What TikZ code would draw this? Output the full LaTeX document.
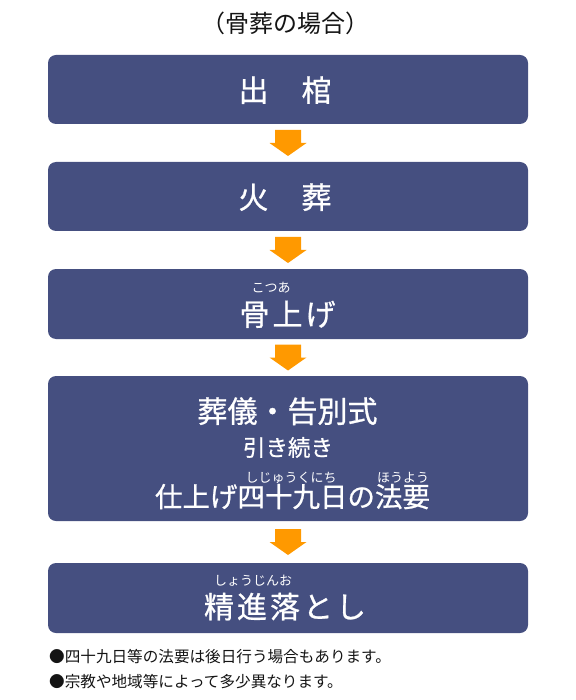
\documentclass[tikz,border=0pt]{standalone}
\usepackage{fontspec}
\setmainfont{Noto Sans CJK JP}
\newfontfamily\jpbox{Noto Sans CJK JP}[FakeBold=0.8]
\usetikzlibrary{calc}
\definecolor{boxblue}{RGB}{69,79,128}
\definecolor{arroworange}{RGB}{255,153,0}
\definecolor{titlegray}{RGB}{20,20,20}
\begin{document}
\begin{tikzpicture}[x=1pt,y=-1pt,
  stepbox/.style={fill=boxblue, draw=none, rounded corners=8pt, minimum width=480pt, inner sep=0pt},
  wt/.style={text=white, inner sep=0pt, anchor=base},
  big/.style={wt, font=\jpbox\fontsize{30}{30}\selectfont},
  mid/.style={wt, font=\jpbox\fontsize{27.5}{27.5}\selectfont},
  small/.style={wt, font=\jpbox\fontsize{22.5}{22.5}\selectfont},
  ruby/.style={wt, font=\fontsize{13}{13}\selectfont},
  note/.style={text=titlegray, inner sep=0pt, anchor=base west, font=\fontsize{15.6}{15.6}\selectfont},
  title/.style={text=titlegray, inner sep=0pt, anchor=base, font=\fontsize{24}{24}\selectfont}
]
\useasboundingbox (0,0) rectangle (575,700);

% title
\node[title] (title) at (285,33) {（骨葬の場合）};

% boxes
\node[stepbox, minimum height=69pt] (b1) at (288,89.5) {};
\node[stepbox, minimum height=69pt] (b2) at (288,196.5) {};
\node[stepbox, minimum height=70pt] (b3) at (288,304) {};
\node[stepbox, minimum height=145pt] (b4) at (288,448.5) {};
\node[stepbox, minimum height=70pt] (b5) at (288,598) {};

% arrows
\foreach \a/\b in {b1/b2,b2/b3,b3/b4,b4/b5}{
  \coordinate (m\a) at ($(\a.south)!0.5!(\b.north)$);
  \fill[arroworange] ([shift={(-13,-13)}]m\a) -- ([shift={(13,-13)}]m\a)
     -- ([shift={(13,0)}]m\a) -- ([shift={(18.5,0)}]m\a) -- ([shift={(0,13)}]m\a)
     -- ([shift={(-18.5,0)}]m\a) -- ([shift={(-13,0)}]m\a) -- cycle;
}

% box texts
\node[big] (t1) at (285,101.5) {出\hspace{33pt}棺};
\node[big] (t2) at (285,208.5) {火\hspace{33pt}葬};

\node[big] (t3) at (287.5,325.5) {骨\kern3pt 上\kern3pt げ};
\node[ruby] (r3) at (271,292) {こつあ};

\node[big] (t4a) at (287.5,422.5) {葬儀・告別式};
\node[small] (t4b) at (288,456) {引き続き};
\node[mid] (t4c) at (292.5,507) {仕上げ四十九日の法要};
\node[ruby] (r4a) at (291,482) {しじゅうくにち};
\node[ruby] (r4b) at (403,482) {ほうよう};

\node[big] (t5) at (285,618) {精\kern3pt 進\kern3pt 落\kern3pt と\kern3pt し};
\node[ruby] (r5) at (253,585) {しょうじんお};

% notes
\node[note] (n1) at (49,662) {●四十九日等の法要は後日行う場合もあります。};
\node[note] (n2) at (49,687) {●宗教や地域等によって多少異なります。};
\end{tikzpicture}
\end{document}
